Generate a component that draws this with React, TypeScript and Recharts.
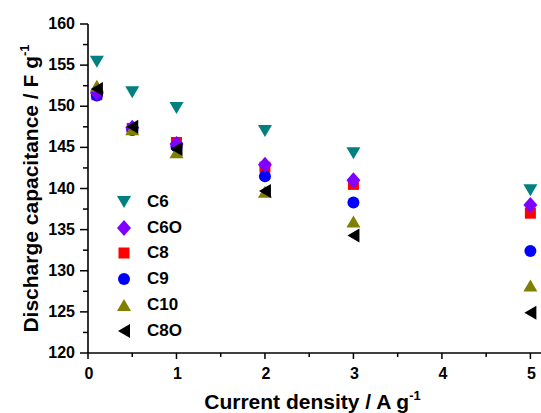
import React from "react";
import { ScatterChart, Scatter, XAxis, YAxis } from "recharts";

const xValues = [0.1, 0.5, 1, 2, 3, 5];
const c6 = [155.4, 151.7, 149.8, 147.0, 144.3, 139.8];
const c6o = [151.6, 147.4, 145.4, 142.9, 141.0, 138.0];
const c8 = [151.4, 147.3, 145.6, 142.6, 140.5, 137.0];
const c9 = [151.3, 147.1, 145.1, 141.5, 138.3, 132.4];
const c10 = [152.5, 147.2, 144.4, 139.6, 136.0, 128.2];
const c8o = [152.1, 147.5, 144.8, 139.7, 134.3, 124.9];

const xTicks = [0, 0.5, 1, 1.5, 2, 2.5, 3, 3.5, 4, 4.5, 5];
const yTicks = [120, 122.5, 125, 127.5, 130, 132.5, 135, 137.5, 140, 142.5, 145, 147.5, 150, 152.5, 155, 157.5, 160];

const FONT = "'Liberation Sans', Arial, sans-serif";

type ShapeKind = "down" | "diamond" | "square" | "circle" | "up" | "left";

function drawShape(kind: ShapeKind, cx: number, cy: number, color: string) {
  switch (kind) {
    case "down":
      return <polygon points={`${cx - 7},${cy - 6} ${cx + 7},${cy - 6} ${cx},${cy + 6}`} fill={color} />;
    case "up":
      return <polygon points={`${cx - 7},${cy + 6} ${cx + 7},${cy + 6} ${cx},${cy - 6}`} fill={color} />;
    case "left":
      return <polygon points={`${cx + 6},${cy - 7} ${cx + 6},${cy + 7} ${cx - 6},${cy}`} fill={color} />;
    case "diamond":
      return <polygon points={`${cx},${cy - 8} ${cx + 7},${cy} ${cx},${cy + 8} ${cx - 7},${cy}`} fill={color} />;
    case "square":
      return <rect x={cx - 5.5} y={cy - 5.5} width={11} height={11} fill={color} />;
    default:
      return <circle cx={cx} cy={cy} r={6} fill={color} />;
  }
}

const series: { name: string; values: number[]; color: string; kind: ShapeKind }[] = [
  { name: "C6", values: c6, color: "#008080", kind: "down" },
  { name: "C6O", values: c6o, color: "#8000FF", kind: "diamond" },
  { name: "C8", values: c8, color: "#FF0000", kind: "square" },
  { name: "C9", values: c9, color: "#0000FF", kind: "circle" },
  { name: "C10", values: c10, color: "#808000", kind: "up" },
  { name: "C8O", values: c8o, color: "#000000", kind: "left" },
];

const drawOrder = ["C6", "C8", "C9", "C6O", "C10", "C8O"];

const XTick = (props: any) => {
  const { x, y, payload } = props;
  const v = payload.value;
  const major = Number.isInteger(v);
  return (
    <g>
      <line x1={x} y1={y} x2={x} y2={y + (major ? 6 : 4)} stroke="#000" strokeWidth={1.5} />
      {major && (
        <text x={x + 1} y={y + 26} textAnchor="middle" fontFamily={FONT} fontWeight="bold" fontSize={16} fill="#000">
          {v}
        </text>
      )}
    </g>
  );
};

const YTick = (props: any) => {
  const { x, y, payload } = props;
  const v = payload.value;
  const major = v % 5 === 0;
  const len = major ? 8 : 5;
  return (
    <g>
      <line x1={x} y1={y} x2={x - len} y2={y} stroke="#000" strokeWidth={1.5} />
      {major && (
        <text x={x - 13} y={y + 5} textAnchor="end" fontFamily={FONT} fontWeight="bold" fontSize={16} fill="#000">
          {v}
        </text>
      )}
    </g>
  );
};

const XTitle = (props: any) => {
  const vb = props.viewBox || { x: 88, y: 353, width: 453, height: 60 };
  return (
    <text x={vb.x + vb.width / 2 - 2} y={vb.y + 56} textAnchor="middle" fontFamily={FONT} fontWeight="bold" fontSize={21} fill="#000">
      Current density / A g
      <tspan dy={-9} fontSize={13}>-1</tspan>
    </text>
  );
};

const YTitle = (props: any) => {
  const vb = props.viewBox || { x: 0, y: 24, width: 88, height: 329 };
  const cy = vb.y + vb.height / 2;
  return (
    <text transform={`translate(38, ${cy}) rotate(-90)`} x={0} y={0} textAnchor="middle" fontFamily={FONT} fontWeight="bold" fontSize={21} fill="#000">
      Discharge capacitance / F g
      <tspan dy={-9} fontSize={13}>-1</tspan>
    </text>
  );
};

export default function App() {
  return (
    <div style={{ position: "absolute", left: 0, top: 0, width: 541, height: 413, background: "#fff" }}>
      <ScatterChart width={541} height={413} margin={{ top: 24, right: 0, bottom: 0, left: 0 }}>
        <XAxis
          type="number"
          dataKey="x"
          domain={[0, 5.12]}
          ticks={xTicks}
          interval={0}
          allowDataOverflow
          height={60}
          tickSize={0}
          tickMargin={0}
          tickLine={false}
          axisLine={{ stroke: "#000", strokeWidth: 1.6 }}
          tick={<XTick />}
          label={<XTitle />}
        />
        <YAxis
          type="number"
          dataKey="y"
          domain={[120, 160]}
          ticks={yTicks}
          interval={0}
          allowDataOverflow
          width={88}
          tickSize={0}
          tickMargin={0}
          tickLine={false}
          axisLine={{ stroke: "#000", strokeWidth: 1.6 }}
          tick={<YTick />}
          label={<YTitle />}
        />
        {drawOrder.map((name) => {
          const s = series.find((q) => q.name === name)!;
          const data = xValues.map((x, i) => ({ x, y: s.values[i] }));
          return (
            <Scatter
              key={s.name}
              name={s.name}
              data={data}
              fill={s.color}
              isAnimationActive={false}
              shape={(p: any) => drawShape(s.kind, p.cx, p.cy, s.color)}
            />
          );
        })}
      </ScatterChart>
      <div
        style={{
          position: "absolute",
          left: 114,
          top: 189,
          fontFamily: FONT,
          fontWeight: "bold",
          fontSize: 17,
          color: "#000",
        }}
      >
        {series.map((s) => (
          <div key={s.name} style={{ display: "flex", alignItems: "center", height: 25.8 }}>
            <svg width={20} height={20} style={{ marginRight: 13 }}>
              {drawShape(s.kind, 10, 10, s.color)}
            </svg>
            <span>{s.name}</span>
          </div>
        ))}
      </div>
    </div>
  );
}
